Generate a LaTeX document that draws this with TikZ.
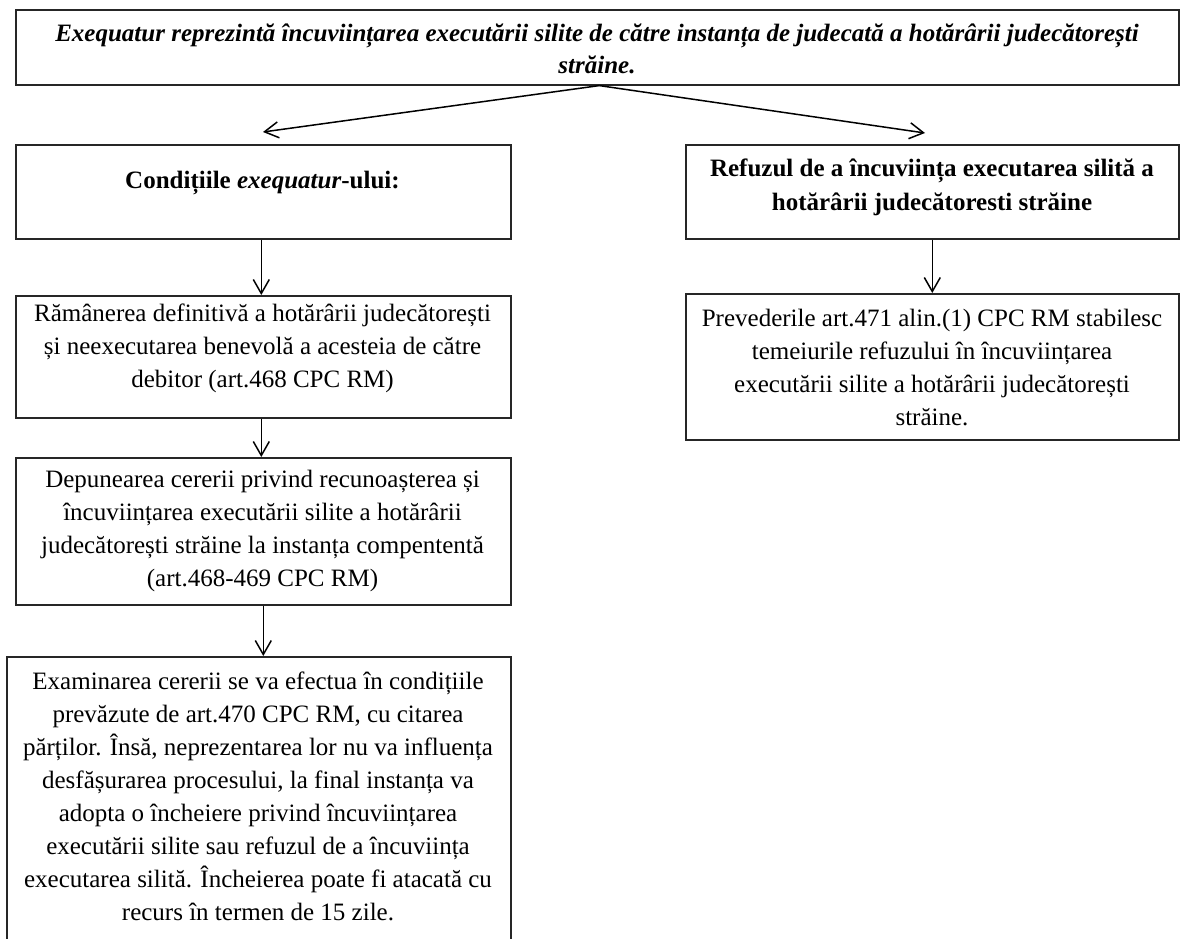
\documentclass[tikz,border=0pt]{standalone}
\usepackage{fontspec}
\setmainfont{Liberation Serif}
\usetikzlibrary{arrows.meta}
\tikzset{
  box/.style={draw=black!85, line width=1.6pt, anchor=north west, inner sep=0pt},
  txt/.style={align=center, inner sep=0pt, font=\fontsize{25}{33}\selectfont},
  ttl/.style={align=center, inner sep=0pt, font=\fontsize{25}{32}\selectfont\bfseries\itshape},
  btxt/.style={align=center, inner sep=0pt, font=\fontsize{25}{34}\selectfont\bfseries},
  arr/.style={-{Straight Barb[length=14pt,width=16pt]}, line width=1.5pt}
}
\begin{document}
\begin{tikzpicture}[x=1pt,y=-1pt]
\clip (0,0) rectangle (1180,939);
\fill[white] (0,0) rectangle (1180,939);
% boxes
\node[box, minimum width=1163pt, minimum height=75pt] (top) at (15,9) {};
\node[box, minimum width=495pt, minimum height=94pt] (cond) at (15,144) {};
\node[box, minimum width=493pt, minimum height=94pt] (ref) at (685,144) {};
\node[box, minimum width=495pt, minimum height=122pt] (b2) at (15,295) {};
\node[box, minimum width=495pt, minimum height=147pt] (b3) at (15,457) {};
\node[box, minimum width=504pt, minimum height=300pt] (b4) at (6,656) {};
\node[box, minimum width=493pt, minimum height=146pt] (r2) at (685,293) {};
% texts
\node[ttl] (t0) at (597,49) {Exequatur reprezintă încuviințarea executării silite de către instanța de judecată a hotărârii judecătorești\\străine.};
\node[btxt] (tc) at (262.5,183) {Condițiile \textit{exequatur}-ului:};
\node[btxt] (tr) at (932,187) {Refuzul de a încuviința executarea silită a\\hotărârii judecătoresti străine};
\node[txt] (t2) at (262.5,348) {Rămânerea definitivă a hotărârii judecătorești\\și neexecutarea benevolă a acesteia de către\\debitor (art.468 CPC RM)};
\node[txt] (t3) at (262.5,531) {Depunearea cererii privind recunoașterea și\\încuviințarea executării silite a hotărârii\\judecătorești străine la instanța compententă\\(art.468-469 CPC RM)};
\node[txt] (t4) at (258,796) {Examinarea cererii se va efectua în condițiile\\prevăzute de art.470 CPC RM, cu citarea\\părților. Însă, neprezentarea lor nu va influența\\desfășurarea procesului, la final instanța va\\adopta o încheiere privind încuviințarea\\executării silite sau refuzul de a încuviința\\executarea silită. Încheierea poate fi atacată cu\\recurs în termen de 15 zile.};
\node[txt] (tr2) at (932,367) {Prevederile art.471 alin.(1) CPC RM stabilesc\\temeiurile refuzului în încuviințarea\\executării silite a hotărârii judecătorești\\străine.};
% connectors
\coordinate (aL) at (263,132);
\coordinate (aR) at (925,133);
\draw[arr] ([xshift=2pt]top.south) -- (aL);
\draw[arr] ([xshift=2pt]top.south) -- (aR);
\draw[arr] ([xshift=-2pt]cond.south) -- ([xshift=-2pt]cond.south |- b2.north);
\draw[arr] (ref.south) -- (ref.south |- r2.north);
\draw[arr] ([xshift=-2pt]b2.south) -- ([xshift=-2pt]b2.south |- b3.north);
\draw[arr] (b3.south) -- (b3.south |- b4.north);
\end{tikzpicture}
\end{document}
